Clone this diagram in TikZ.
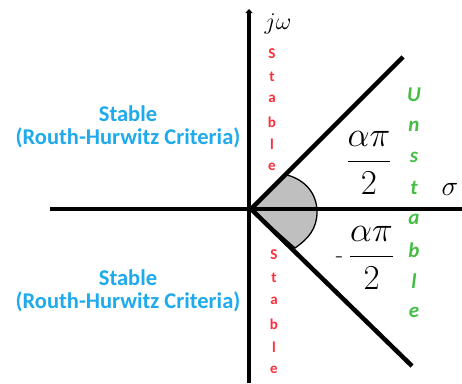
\RequirePackage{fix-cm}
\documentclass[tikz,border=0pt]{standalone}
\usepackage{fontspec}
\setsansfont{Carlito}
\usetikzlibrary{arrows.meta}
\definecolor{stableblue}{RGB}{30,170,235}
\definecolor{stablered}{RGB}{255,45,60}
\definecolor{unstgreen}{RGB}{70,190,70}
\begin{document}
\begin{tikzpicture}[x=1pt, y=-1pt,
  axis/.style={line width=3.5pt},
  ray/.style={line width=4.5pt},
  bluelbl/.style={text=stableblue, font=\sffamily\bfseries\fontsize{22.5}{23}\selectfont, align=center, inner sep=0pt},
  redlet/.style={text=stablered, font=\sffamily\bfseries\fontsize{15}{15}\selectfont, inner sep=0pt},
  greenlet/.style={text=unstgreen, font=\sffamily\bfseries\itshape\fontsize{21}{21}\selectfont, inner sep=0pt},
  fraclbl/.style={font=\fontsize{35}{40}\selectfont, inner sep=0pt}]
\useasboundingbox (0,0) rectangle (462,383);
% Points
\coordinate (O) at (251,209);
\coordinate (xl) at (50,209);
\coordinate (xr) at (462,209);
\coordinate (yt) at (249,9);
\coordinate (yb) at (249,383);
\coordinate (up) at (403,57);
\coordinate (lo) at (412,366);

% Angle wedge
\filldraw[fill=gray!50, line width=1.3pt] (O) -- (287,175) to[out=-15,in=90] (317,212)
  to[out=-90,in=35] (295,248) -- cycle;

% Axes and rays
\draw[axis] (xl) -- (xr);
\draw[axis, -{Triangle[length=4pt,width=7pt]}] (yb) -- (yt);
\draw[ray] (O) -- (up);
\draw[ray] (O) -- (lo);

% Axis labels
\node[font=\fontsize{24}{28}\selectfont] (jw) at (278,24) {$j\omega$};
\node[font=\fontsize{28}{32}\selectfont] (sig) at (450,189) {$\sigma$};

% Angles
\node[fraclbl] (aup) at (369,163) {$\displaystyle\frac{\alpha\pi}{2}$};
\node[fraclbl] (alo) at (365,258) {\raisebox{3pt}{\fontsize{24}{24}\selectfont -}\,$\displaystyle\frac{\alpha\pi}{2}$};

% Regions
\node[bluelbl] (lhpup) at (128,127) {Stable\\(Routh-Hurwitz Criteria)};
\node[bluelbl] (lhplo) at (128,291) {Stable\\(Routh-Hurwitz Criteria)};
\foreach \ch [count=\i] in {S,t,a,b,l,e}
  \node[redlet] (su\i) at (272,54+22.6*\i-22.6) {\ch};
\foreach \ch [count=\i] in {S,t,a,b,l,e}
  \node[redlet] (sl\i) at (274,255+23*\i-23) {\ch};
\foreach \ch [count=\i] in {U,n,s,t,a,b,l,e}
  \node[greenlet] (un\i) at (414,95+31*\i-31) {\ch};
\end{tikzpicture}
\end{document}
